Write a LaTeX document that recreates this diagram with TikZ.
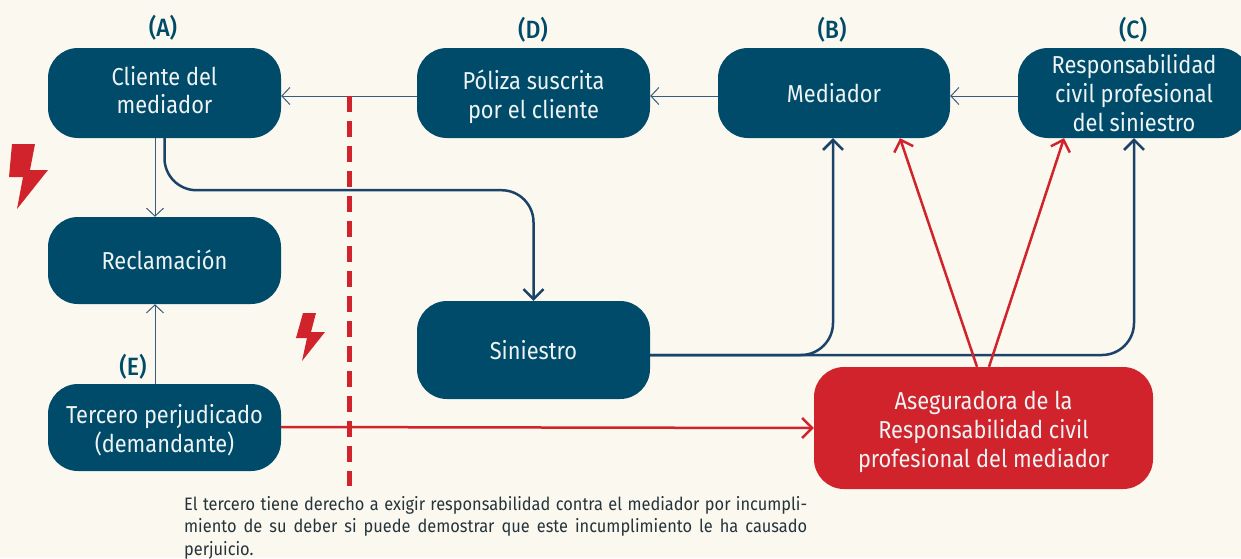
\documentclass[tikz,border=0pt]{standalone}
\usepackage{fontspec}
\setmainfont[FakeStretch=0.89]{Fira Sans}
\newfontfamily\labfont[FakeStretch=0.92]{Fira Sans Medium}
\newfontfamily\notefont[FakeStretch=0.91]{Fira Sans}
\usetikzlibrary{arrows.meta}
\definecolor{bgc}{HTML}{FBF8F0}
\definecolor{boxc}{HTML}{004B69}
\definecolor{redc}{HTML}{D0232B}
\definecolor{navyc}{HTML}{1B4268}
\definecolor{thinc}{HTML}{3A5C7C}
\definecolor{txtc}{HTML}{EEF3F4}
\definecolor{notec}{HTML}{26343A}
\newcommand{\btxt}[2]{\raisebox{\dimexpr#1-6.1pt\relax}[0pt][0pt]{\begin{tabular}{@{}c@{}}#2\end{tabular}}}
\tikzset{
  x=1pt,y=-1pt,
  bx/.style={rectangle,rounded corners=30pt,fill=boxc,text=txtc,inner sep=0pt,align=center,
    font=\fontsize{24.5}{28.7}\selectfont},
  rbx/.style={bx,fill=redc},
  lab/.style={text=boxc,inner sep=0pt,font=\fontsize{25}{27}\labfont},
  thin arrow/.style={draw=thinc,line width=1pt,-{Straight Barb[length=8pt,width=17pt,line width=1pt]}},
  navy arrow/.style={draw=navyc,line width=2.5pt,rounded corners=32pt,-{Straight Barb[length=10pt,width=20pt,line width=2.5pt]}},
  red arrow/.style={draw=redc,line width=2.5pt,-{Straight Barb[length=10pt,width=20pt,line width=2.5pt]}},
  bolt/.style={fill=redc},
}
\begin{document}
\begin{tikzpicture}
\useasboundingbox[fill=bgc] (0,0) rectangle (1241,558);
\node[bx,minimum width=233pt,minimum height=90pt] (a) at (164.5,93) {\btxt{-1pt}{Cliente del\\mediador}};
\node[bx,minimum width=233pt,minimum height=90pt] (d) at (533.5,93) {\btxt{-5.5pt}{Póliza suscrita\\por el cliente}};
\node[bx,minimum width=232pt,minimum height=90pt] (b) at (834,93) {\btxt{-4pt}{Mediador}};
\node[bx,minimum width=232pt,minimum height=90pt] (c) at (1134,93) {\btxt{-4pt}{Responsabilidad\\civil profesional\\del siniestro}};
\node[bx,minimum width=233pt,minimum height=87pt] (r) at (164.5,260.5) {\btxt{-3pt}{Reclamación}};
\node[bx,minimum width=233pt,minimum height=98pt] (s) at (533.5,350) {\btxt{-4pt}{Siniestro}};
\node[bx,minimum width=233pt,minimum height=87pt] (t) at (164.5,427.5) {\btxt{-5pt}{Tercero perjudicado\\(demandante)}};
\node[rbx,minimum width=339pt,minimum height=122pt] (q) at (983.5,428) {\btxt{-5pt}{Aseguradora de la\\Responsabilidad civil\\profesional del mediador}};
\node[lab] (la) at (163,28) {(A)};
\node[lab] (ld) at (533,30) {(D)};
\node[lab] (lb) at (832,30) {(B)};
\node[lab] (lc) at (1133,30) {(C)};
\node[lab] (le) at (133,367) {(E)};
\node[inner sep=0pt,anchor=north west,text width=623pt,align=justify,text=notec,
  font=\fontsize{18}{22.5}\notefont] (note) at (184,496)
  {El tercero tiene derecho a exigir responsabilidad contra el mediador por incumpli-\linebreak miento de su deber si puede demostrar que este incumplimiento le ha causado\linebreak perjuicio.};
% thin
\draw[thin arrow] ([yshift=-3pt]c.west) -- ([yshift=-3pt]b.east);
\draw[thin arrow] ([yshift=-3pt]b.west) -- ([yshift=-3pt]d.east);
\draw[thin arrow] ([yshift=-3pt]d.west) -- ([yshift=-3pt]a.east);
\draw[thin arrow] ([xshift=-9.5pt]a.south) -- ([xshift=-9.5pt]r.north);
\draw[thin arrow] ([xshift=-9.5pt]t.north) -- ([xshift=-9.5pt]r.south);
% navy
\draw[navy arrow] (a.south) -- ++(0,52) -- ++(369,0) -- (s.north);
\draw[navy arrow] ([yshift=-5pt]s.east) -| ([xshift=-1pt]b.south);
\draw[navy arrow] ([yshift=-5pt]s.east) -| (c.south);
% red
\draw[red arrow] ([xshift=-6.5pt]q.north) -- ([xshift=66pt]b.south);
\draw[red arrow] ([xshift=5.5pt]q.north) -- ([xshift=-70pt]c.south);
\draw[red arrow] ([yshift=.5pt]t.east) -- (q.west);
% dashed barrier
\coordinate (dtop) at (349,96);
\coordinate (dbot) at (349,486);
\draw[redc,line width=5pt,dash pattern=on 16pt off 9pt] (dtop) -- (dbot);
% bolts
\fill[bolt] (12,144) -- (35,144) -- (30,170) -- (48,170) -- (17,209) -- (23,177) -- (9,177) -- cycle;
\fill[bolt] (303,313) -- (316,313) -- (311,332) -- (325,332) -- (302,361) -- (307,338) -- (296,338) -- cycle;
\end{tikzpicture}
\end{document}
